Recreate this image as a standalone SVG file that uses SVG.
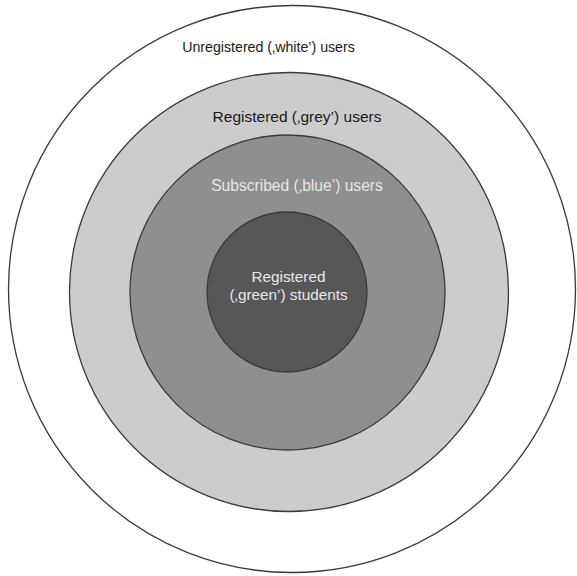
<svg xmlns="http://www.w3.org/2000/svg" width="577" height="576" viewBox="0 0 577 576">
<style>
.ring{stroke:#3a3a3a;stroke-width:1.3}
.lbl{font-family:"Liberation Sans",Arial,Helvetica,sans-serif;text-anchor:middle}
</style>
<rect width="577" height="576" fill="#ffffff"/>
<g id="unregistered">
<circle class="ring" cx="292" cy="289" r="283.5" fill="#ffffff"/>
<text class="lbl" x="268.5" y="52" font-size="14.2" fill="#1a1a1a">Unregistered (‚white’) users</text>
</g>
<g id="registered">
<circle class="ring" cx="289" cy="292" r="219.5" fill="#cccccc"/>
<text class="lbl" x="297" y="122" font-size="15.5" fill="#1a1a1a">Registered (‚grey’) users</text>
</g>
<g id="subscribed">
<circle class="ring" cx="287.5" cy="292.5" r="157.5" fill="#8f8f8f"/>
<text class="lbl" x="297" y="191" font-size="15.6" fill="#e6e6e6">Subscribed (‚blue’) users</text>
</g>
<g id="students">
<circle class="ring" cx="287" cy="292" r="80" fill="#575757"/>
<text class="lbl" x="288.5" y="282" font-size="15.3" fill="#e8e8e8">Registered</text>
<text class="lbl" x="288.5" y="300" font-size="15.3" fill="#e8e8e8">(‚green’) students</text>
</g>
<g id="connectors"/>
</svg>
